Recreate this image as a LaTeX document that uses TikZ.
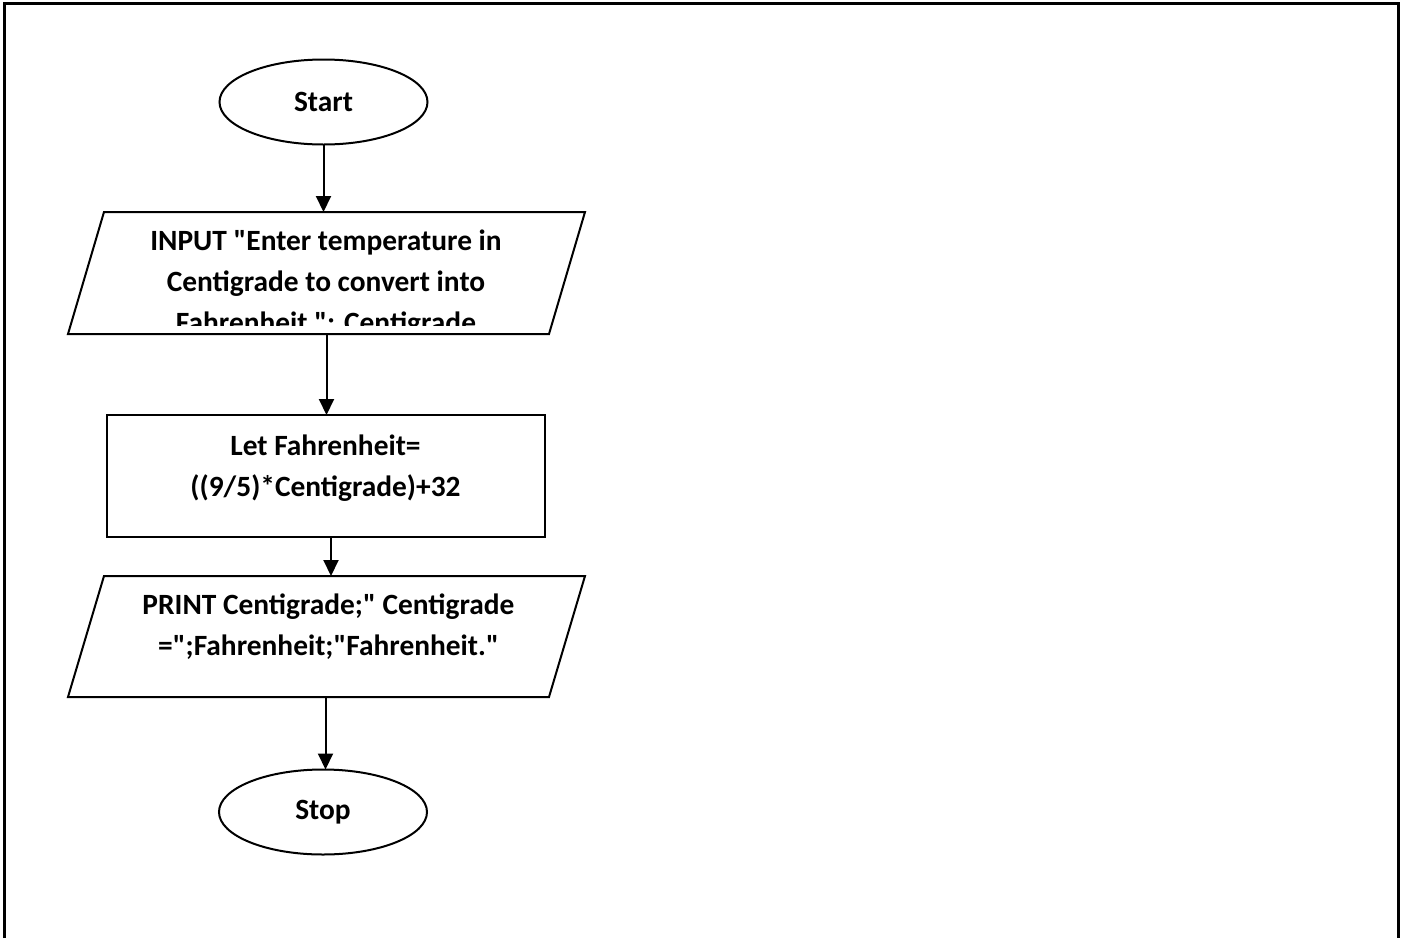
\documentclass[tikz,border=0pt]{standalone}
\usepackage{fontspec}
\setmainfont{Carlito}[Ligatures=TeXOff]
\usetikzlibrary{shapes.geometric,arrows.meta,calc}
\begin{document}
\begin{tikzpicture}[x=0.5pt,y=-0.5pt,
  terminal/.style={ellipse,draw,line width=1pt,minimum width=104pt,minimum height=42.5pt,
    inner sep=0pt,outer sep=0pt,font=\fontsize{14.7}{20}\selectfont\bfseries},
  holder/.style={rectangle,inner sep=0pt,outer sep=0pt},
  procbox/.style={rectangle,draw,line width=1pt,inner sep=0pt,outer sep=0pt},
  iobox/.style={draw,line width=1pt,line join=miter},
  txt/.style={align=center,inner sep=0pt,font=\fontsize{14.7}{20.5}\selectfont\bfseries},
  flowarrow/.style={line width=1pt,-{Triangle[length=8pt,width=7.5pt]}}
]
\useasboundingbox (0,0) rectangle (1403,938);
% page frame, open at the bottom
\draw[line width=1.5pt] (4,938) -- (4,3) -- (1398,3) -- (1398,938);

% start terminal
\node[terminal] (start) at (323.5,102) {\raisebox{-1.5pt}{Start}};

% input parallelogram
\node[holder,minimum width=258.5pt,minimum height=61pt] (in) at (326.5,273) {};
\draw[iobox] ($(in.north west)+(36,0)$) -- (in.north east) -- ($(in.south east)+(-36,0)$)
  -- (in.south west) -- cycle;
\begin{scope}
  \clip (0,212) rectangle (1403,325);
  \node[txt] (intext) at (326,284) {INPUT "Enter temperature in\\Centigrade to convert into\\Fahrenheit ": Centigrade};
\end{scope}

% process box
\node[procbox,minimum width=219pt,minimum height=61pt] (proc) at (326,476) {};
\node[txt] (proctext) at (325.5,468) {Let Fahrenheit=\\((9/5)*Centigrade)+32};

% output parallelogram
\node[holder,minimum width=258.5pt,minimum height=60.5pt] (prt) at (326.5,636.5) {};
\draw[iobox] ($(prt.north west)+(36,0)$) -- (prt.north east) -- ($(prt.south east)+(-36,0)$)
  -- (prt.south west) -- cycle;
\node[txt] (prttext) at (328.5,627) {PRINT Centigrade;" Centigrade\\=";Fahrenheit;"Fahrenheit."};

% stop terminal
\node[terminal] (stop) at (323,812) {Stop};

% connectors
\draw[flowarrow] (start.south) -- (start.south |- in.north);
\draw[flowarrow] (in.south) -- (in.south |- proc.north);
\draw[flowarrow] ([xshift=2.5pt]proc.south) -- ([xshift=2.5pt]proc.south |- prt.north);
\draw[flowarrow] ([xshift=-0.5pt]prt.south) -- ([xshift=-0.5pt]prt.south |- stop.north);
\end{tikzpicture}
\end{document}
